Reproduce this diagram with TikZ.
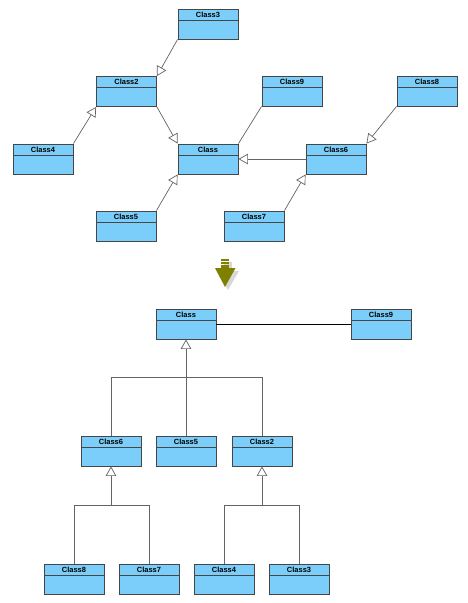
\documentclass[tikz,border=0pt]{standalone}
\usepackage{fontspec}
\setmainfont{Liberation Sans}
\usetikzlibrary{arrows.meta,calc}
\definecolor{clsfill}{RGB}{122,206,249}
\definecolor{clsdraw}{RGB}{70,70,70}
\definecolor{lnc}{RGB}{100,100,100}
\definecolor{olivearrow}{RGB}{128,128,0}
\tikzset{
  cls/.style={draw=clsdraw, fill=clsfill, line width=0.9pt, minimum width=60pt, minimum height=30pt, inner sep=0pt,
    path picture={\draw[clsdraw, line width=0.9pt] ($(path picture bounding box.north west)+(0,-11pt)$) -- ($(path picture bounding box.north east)+(0,-11pt)$);}},
  lbl/.style={font=\bfseries\fontsize{7.5}{8}\selectfont, inner sep=0pt, anchor=north, yshift=-3.1pt},
  gen/.style={draw=lnc, line width=0.7pt, -{Triangle[open,length=9.5pt,width=10.5pt,fill=white,line width=0.7pt]}},
  assoc/.style={draw=lnc, line width=0.7pt},
  assocb/.style={draw=black, line width=0.7pt},
}
\newcommand{\clsnode}[3]{\node[cls, label={[lbl]north:#3}] (#1) at (#2) {};}
\begin{document}
\begin{tikzpicture}[x=1pt, y=-1pt]
\path[fill=white] (0,0) rectangle (468,603);
\useasboundingbox (0,0) rectangle (468,603);
% top diagram
\clsnode{t3}{208,24}{Class3}
\clsnode{t2}{126.5,91.5}{Class2}
\clsnode{t9}{292,91}{Class9}
\clsnode{t8}{427,91}{Class8}
\clsnode{t4}{43,159}{Class4}
\clsnode{tc}{208,159}{Class}
\clsnode{t6}{336,159}{Class6}
\clsnode{t5}{126,226}{Class5}
\clsnode{t7}{254,226}{Class7}
\draw[gen] (t3.south west) -- (t2.north east);
\draw[gen] (t4.north east) -- (t2.south west);
\draw[gen] (t2.south east) -- (tc.north west);
\draw[assoc] (t9.south west) -- (tc.north east);
\draw[gen] (t5.north east) -- (tc.south west);
\draw[gen] (t6.west) -- (tc.east);
\draw[gen] (t8.south west) -- (t6.north east);
\draw[gen] (t7.north east) -- (t6.south west);
% arrow
\fill[black!25, opacity=0.6] (224,262) rectangle (232,271);
\fill[black!25, opacity=0.6] (218,271) -- (239,271) -- (228,290) -- cycle;
\fill[olivearrow] (221,259) rectangle (229,260.8);
\fill[olivearrow] (221,262) rectangle (229,263.8);
\fill[olivearrow] (221,265) rectangle (229,268.5);
\fill[olivearrow] (215,268) -- (235.5,268) -- (225,287) -- cycle;
% bottom diagram
\clsnode{bc}{186,324}{Class}
\clsnode{b9}{381,324}{Class9}
\clsnode{b6}{111,451}{Class6}
\clsnode{b5}{186,451}{Class5}
\clsnode{b2}{262,451}{Class2}
\clsnode{b8}{74,579}{Class8}
\clsnode{b7}{149,579}{Class7}
\clsnode{b4}{224,579}{Class4}
\clsnode{b3}{299,579}{Class3}
\draw[assocb] (bc.east) -- (b9.west);
\coordinate (j1) at (186,377);
\coordinate (j2) at (111,505);
\coordinate (j3) at (262,505);
\draw[gen] (j1) -- (bc.south);
\draw[assoc] (b6.north) |- (j1);
\draw[assoc] (b5.north) -- (j1);
\draw[assoc] (b2.north) |- (j1);
\draw[gen] (j2) -- (b6.south);
\draw[assoc] (b8.north) |- (j2);
\draw[assoc] (b7.north) |- (j2);
\draw[gen] (j3) -- (b2.south);
\draw[assoc] (b4.north) |- (j3);
\draw[assoc] (b3.north) |- (j3);
\end{tikzpicture}
\end{document}
